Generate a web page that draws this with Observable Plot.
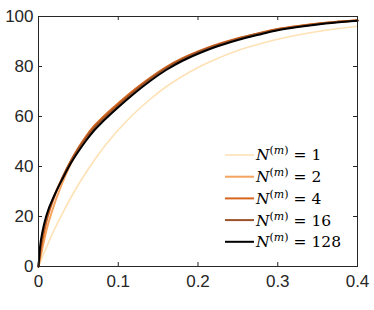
<!DOCTYPE html>
<html>
<head>
<meta charset="utf-8">
<script src="https://cdn.jsdelivr.net/npm/d3@7"></script>
<script src="https://cdn.jsdelivr.net/npm/@observablehq/plot@0.6"></script>
<style>
  html, body { margin: 0; padding: 0; background: #fff; }
  #chart { width: 374px; height: 310px; }
</style>
</head>
<body>
<div id="chart"></div>
<script>
// ---- data ----
const xs   = [0, 0.002, 0.005, 0.01, 0.02, 0.03, 0.04, 0.05, 0.06, 0.07, 0.08, 0.09, 0.1, 0.12, 0.14, 0.16, 0.18, 0.2, 0.22, 0.25, 0.28, 0.3, 0.33, 0.36, 0.4];
const yN1   = [0, 1.6, 4.0, 7.7, 14.9, 21.2, 27.2, 32.7, 37.8, 42.5, 46.9, 50.9, 54.6, 61.2, 66.9, 71.9, 76.0, 79.6, 82.6, 86.4, 89.3, 90.9, 92.9, 94.5, 96.1];
const yN2   = [0, 3, 7.5, 14.5, 25, 33.5, 40.8, 46.8, 51.8, 56, 59.3, 62.2, 65, 70.4, 75.2, 79.5, 83, 85.8, 88.2, 91.1, 93.5, 94.9, 96.3, 97.4, 98.4];
const yN4   = [0, 5, 10.5, 18, 28, 35.5, 42, 47.5, 52.3, 56.3, 59.5, 62.5, 65.3, 70.7, 75.5, 79.8, 83.2, 86, 88.4, 91.3, 93.6, 95, 96.4, 97.5, 98.5];
const yN16  = [0, 6.5, 12.5, 19.5, 28.5, 35.5, 41.7, 47, 51.5, 55.5, 58.7, 61.6, 64.5, 70, 75, 79.3, 82.8, 85.7, 88.1, 91, 93.4, 94.8, 96.2, 97.4, 98.4];
const yN128 = [0, 8, 14, 20.5, 28.5, 35, 41, 46, 50.5, 54.5, 57.8, 60.8, 63.7, 69.2, 74.2, 78.6, 82.2, 85.1, 87.6, 90.6, 93, 94.5, 96, 97.2, 98.3];
const seriesLabels = ["1", "2", "4", "16", "128"];
const seriesColors = ["#fee2b6", "#f5a35e", "#d6651e", "#9a5228", "#000000"];
const xTicks = [0, 0.1, 0.2, 0.3, 0.4];
const yTicks = [0, 20, 40, 60, 80, 100];

// ---- build ----
const allY = [yN1, yN2, yN4, yN16, yN128];
const rows = allY.map((ys, i) => xs.map((x, j) => ({x, y: ys[j], k: seriesLabels[i]})));

const W = 374, H = 310;
const mL = 38, mR = 17, mT = 16, mB = 44;
const iW = W - mL - mR, iH = H - mT - mB;
const axisColor = "#262626";

const plot = Plot.plot({
  width: W, height: H,
  marginLeft: mL, marginRight: mR, marginTop: mT, marginBottom: mB,
  style: {fontFamily: "'Liberation Sans', Arial, sans-serif", fontSize: "17px", color: axisColor, background: "#fff"},
  x: {domain: [0, 0.4]},
  y: {domain: [0, 100]},
  marks: [
    ...rows.map((r, i) => Plot.line(r, {x: "x", y: "y", stroke: seriesColors[i], strokeWidth: i === 0 ? 1.6 : 2, curve: "monotone-x"})),
    Plot.frame({stroke: axisColor, strokeWidth: 1}),
    Plot.tickX(xTicks, {x: d => d, insetTop: iH - 4, stroke: axisColor}),
    Plot.tickX(xTicks, {x: d => d, insetBottom: iH - 4, stroke: axisColor}),
    Plot.tickY(yTicks, {y: d => d, insetRight: iW - 4, stroke: axisColor}),
    Plot.tickY(yTicks, {y: d => d, insetLeft: iW - 4, stroke: axisColor}),
    Plot.axisX(xTicks, {tickSize: 0, tickPadding: 8, tickFormat: d => String(d), label: null}),
    Plot.axisY(yTicks, {tickSize: 0, tickPadding: 5, tickFormat: d => String(d), label: null})
  ]
});
document.getElementById("chart").appendChild(plot);

// ---- legend (inside the plot, lower right) ----
const svg = d3.select(plot);
const lg = svg.append("g")
  .attr("font-family", "'DejaVu Serif', 'Liberation Serif', serif")
  .attr("font-size", 15.5)
  .attr("text-anchor", "start")
  .attr("fill", "#000");
const lx0 = 225, lx1 = 254, ly0 = 155, dy = 21.7;
seriesLabels.forEach((lab, i) => {
  const y = ly0 + i * dy;
  lg.append("line").attr("x1", lx0).attr("x2", lx1).attr("y1", y).attr("y2", y)
    .attr("stroke", seriesColors[i]).attr("stroke-width", i === 0 ? 1.6 : 2);
  const t = lg.append("text").attr("x", lx1 + 2).attr("y", y).attr("dy", "0.35em").attr("text-anchor", "start");
  t.append("tspan").attr("font-style", "italic").text("N");
  t.append("tspan").attr("dy", -6).attr("font-size", 11).text("(");
  t.append("tspan").attr("font-size", 11).attr("font-style", "italic").text("m");
  t.append("tspan").attr("font-size", 11).text(")");
  t.append("tspan").attr("dy", 6).text(" = " + lab);
});
</script>
</body>
</html>
